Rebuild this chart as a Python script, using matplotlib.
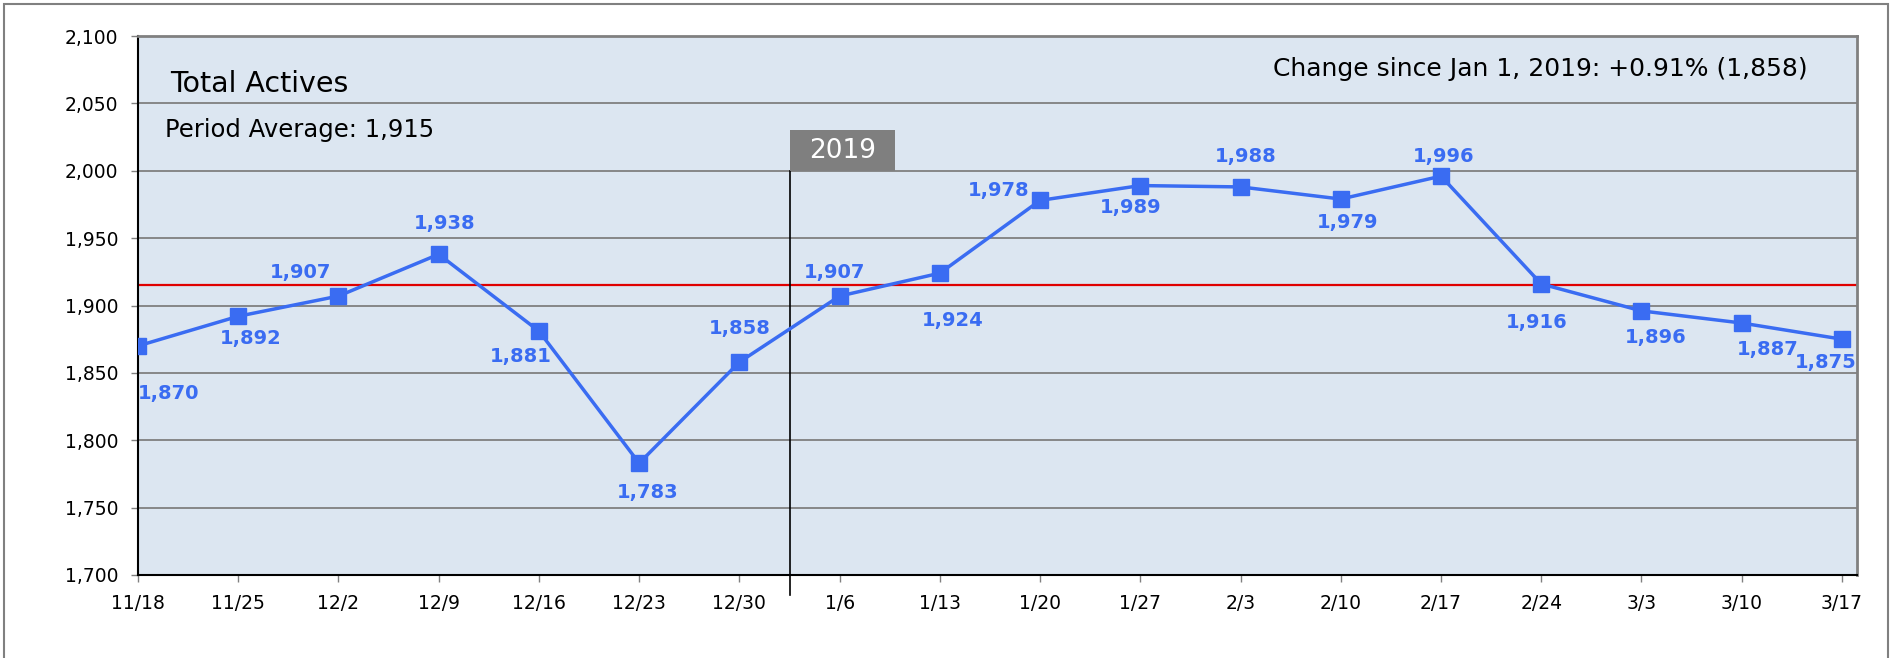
import matplotlib

matplotlib.use("Agg")
import matplotlib.pyplot as plt  # noqa: E402
from matplotlib.patches import Rectangle  # noqa: E402

# Weekly values
weeks = ["11/18", "11/25", "12/2", "12/9", "12/16", "12/23", "12/30",
         "1/6", "1/13", "1/20", "1/27", "2/3", "2/10", "2/17",
         "2/24", "3/3", "3/10", "3/17"]
actives = [1870, 1892, 1907, 1938, 1881, 1783, 1858,
           1907, 1924, 1978, 1989, 1988, 1979, 1996,
           1916, 1896, 1887, 1875]
period_avg = 1915
y_ticks = [1700, 1750, 1800, 1850, 1900, 1950, 2000, 2050, 2100]

# label offsets (points) for each data label
label_offsets = [(22, -34), (9, -16), (-27, 17), (4, 22), (-13, -18), (6, -21),
                 (0, 24), (-4, 17), (9, -34), (-30, 7), (-7, -16), (4, 22),
                 (5, -17), (2, 14), (-3, -28), (10, -19), (19, -19), (-12, -17)]

BLUE = "#3a6cf2"
plt.rcParams["font.family"] = ["DejaVu Sans"]

W, H = 1893, 658
fig = plt.figure(figsize=(W / 100, H / 100), dpi=100)
fig.patches.append(Rectangle((4 / W, -0.01), (1888 - 4) / W, 1 - 4 / H + 0.01,
                             transform=fig.transFigure, fill=False,
                             edgecolor="#808080", linewidth=1.5))

ax = fig.add_axes([138 / W, 1 - 575 / H, (1857 - 138) / W, (575 - 36) / H])
ax.set_facecolor("#dce6f1")

x = list(range(len(weeks)))
ax.set_xlim(0, len(weeks) - 1 + 0.15)
ax.set_ylim(y_ticks[0], y_ticks[-1])
ax.set_yticks(y_ticks)
ax.set_yticklabels([f"{v:,}" for v in y_ticks], fontsize=13.5)
ax.set_xticks(x)
ax.set_xticklabels(weeks, fontsize=13.5)
ax.tick_params(axis="both", length=5, width=1, color="#808080")
ax.tick_params(axis="y", pad=9)
ax.tick_params(axis="x", pad=9)
ax.yaxis.grid(True, color="#7f7f7f", linewidth=1.3)
ax.set_axisbelow(True)

for side in ("left", "bottom"):
    ax.spines[side].set_color("black")
    ax.spines[side].set_linewidth(1.5)
for side in ("top", "right"):
    ax.spines[side].set_color("#808080")
    ax.spines[side].set_linewidth(2)

ax.axhline(period_avg, color="#e00000", linewidth=1.6, zorder=2)

# year break
year_break = 6.5
ax.plot([year_break, year_break], [2000, 1685], color="black",
        linewidth=1.2, clip_on=False, zorder=2)
ax.add_patch(Rectangle((year_break, 2000), 1.05, 30, facecolor="#7f7f7f",
                       edgecolor="none", zorder=3))
ax.text(year_break + 0.525, 2015, "2019", color="white", fontsize=19,
        ha="center", va="center", zorder=4)

ax.plot(x, actives, color=BLUE, linewidth=2.5, marker="s", markersize=12,
        zorder=5)

for xi, v, off in zip(x, actives, label_offsets):
    ax.annotate(f"{v:,}", (xi, v), xytext=off, textcoords="offset points",
                ha="center", va="center", color=BLUE, fontsize=14,
                fontweight="bold", zorder=6)

ax.text(170 / W, 1 - 92 / H, "Total Actives", transform=fig.transFigure,
        fontsize=20.5, va="baseline")
ax.text(165 / W, 1 - 137 / H, "Period Average: 1,915",
        transform=fig.transFigure, fontsize=17.5, va="baseline")
ax.text(1808 / W, 1 - 76 / H, "Change since Jan 1, 2019: +0.91% (1,858)",
        transform=fig.transFigure, fontsize=18, va="baseline", ha="right")

fig.savefig("out.png", dpi=100)
